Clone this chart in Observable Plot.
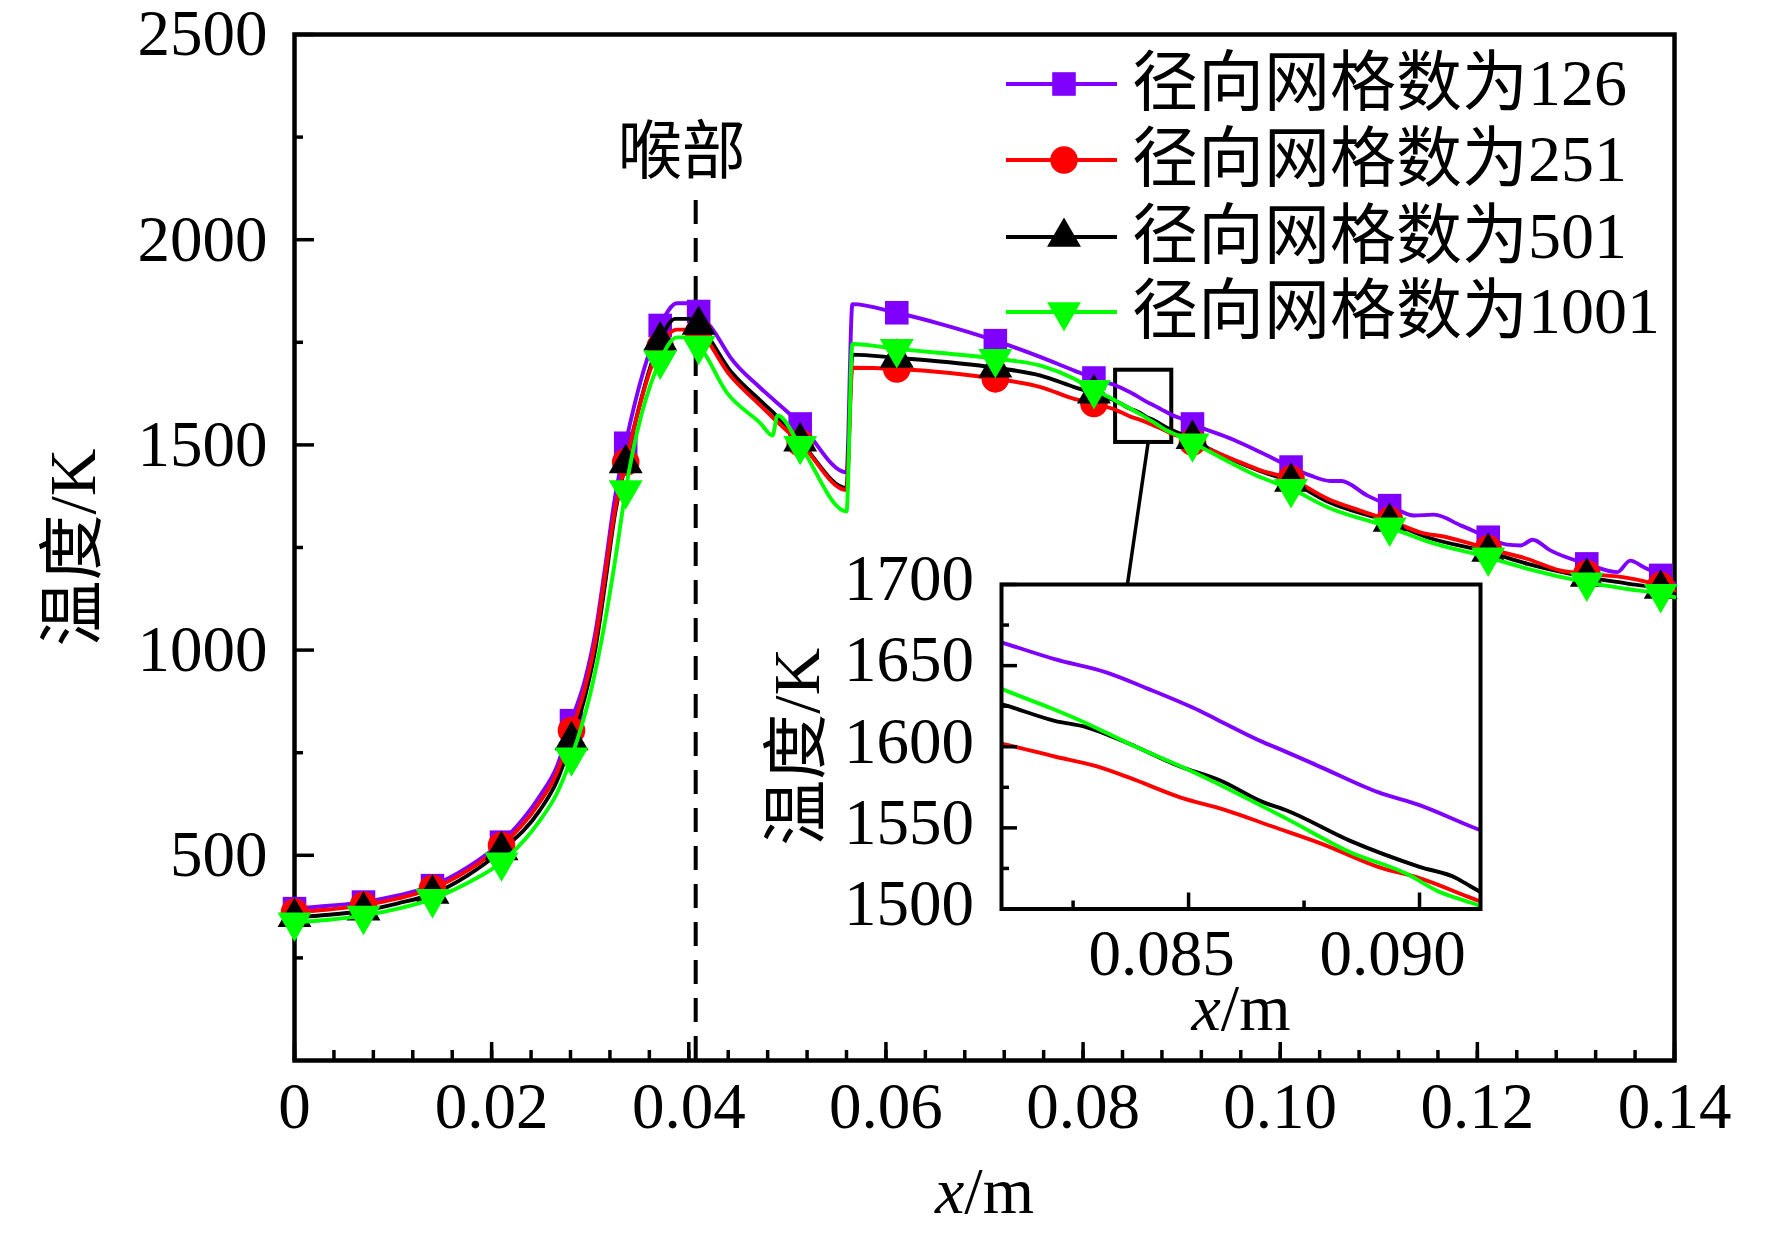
<!DOCTYPE html>
<html><head><meta charset="utf-8">
<script src="https://cdn.jsdelivr.net/npm/d3@7"></script>
<script src="https://cdn.jsdelivr.net/npm/@observablehq/plot@0.6"></script>
<style>
html,body{margin:0;padding:0;background:#fff;overflow:hidden;}
#wrap{position:relative;width:1772px;height:1233px;}
#wrap > svg{position:absolute;max-width:none;}
</style></head><body><div id="wrap"></div>
<script>
// ---------------- data ----------------
const seriesNames = ["径向网格数为126", "径向网格数为251", "径向网格数为501", "径向网格数为1001"];
const seriesColors = ["#8000ff", "#ff0000", "#000000", "#00ff00"];

const x126 = [0,0.0035,0.007,0.0105,0.014,0.0175,0.021,0.0249,0.0266,0.0281,0.0295,0.0305,0.0315,0.0325,0.0336,0.0371,0.0388,0.0404,0.041,0.0425,0.0442,0.0473,0.0503,0.0513,0.056,0.0566,0.0611,0.0655,0.0711,0.0757,0.0791,0.0811,0.0821,0.0832,0.0841,0.0851,0.0856,0.0866,0.0871,0.0879,0.0891,0.09,0.0911,0.0952,0.098,0.1011,0.1031,0.1051,0.1062,0.1088,0.1111,0.1136,0.1156,0.1183,0.1211,0.123,0.1244,0.1256,0.1274,0.1311,0.1342,0.1355,0.1369,0.1386,0.14];
const t126 = [370,377,386,402,426,470,532,645,715,828,930,1040,1200,1370,1504,1791,1845,1845,1825,1779,1714,1638,1574,1551,1433,1843,1822,1795,1754,1714,1681,1663,1654,1646,1636,1624,1617,1603,1597,1587,1572,1564,1551,1513,1482,1446,1425,1412,1412,1377,1352,1328,1330,1304,1275,1257,1255,1269,1243,1210,1190,1218,1202,1182,1162];

const x251 = [0,0.0035,0.007,0.0105,0.014,0.0175,0.021,0.0249,0.0266,0.0281,0.0295,0.0305,0.0315,0.0325,0.0336,0.0371,0.0388,0.0402,0.041,0.0442,0.0473,0.0486,0.0503,0.0513,0.056,0.0566,0.0611,0.0711,0.0757,0.0791,0.0811,0.0821,0.083,0.0838,0.0848,0.0858,0.0868,0.0879,0.0891,0.09,0.0911,0.0955,0.098,0.1011,0.1048,0.1081,0.1111,0.1142,0.1169,0.1211,0.1251,0.1284,0.1311,0.1352,0.1386,0.14];
const t251 = [361,368,378,395,419,462,524,630,700,804,910,1020,1180,1340,1458,1740,1781,1781,1775,1669,1595,1565,1527,1505,1390,1688,1685,1661,1641,1612,1601,1594,1588,1580,1569,1561,1551,1540,1526,1519,1507,1462,1438,1417,1369,1340,1316,1287,1275,1247,1222,1194,1186,1176,1157,1145];

const x501 = [0,0.0035,0.007,0.0105,0.014,0.0175,0.021,0.0249,0.0266,0.0281,0.0295,0.0305,0.0315,0.0325,0.0336,0.0371,0.0386,0.04,0.041,0.0442,0.0473,0.0486,0.0503,0.0513,0.056,0.0566,0.0611,0.0711,0.0757,0.0791,0.0811,0.0821,0.0828,0.0837,0.0848,0.0857,0.0866,0.0871,0.0885,0.09,0.0908,0.0911,0.0955,0.098,0.1011,0.1048,0.1111,0.1149,0.1211,0.1251,0.1311,0.1352,0.1386,0.14];
const t501 = [349,355,365,383,406,450,512,610,680,780,890,1000,1160,1330,1455,1754,1807,1807,1792,1681,1607,1578,1532,1508,1395,1720,1712,1688,1669,1641,1625,1616,1612,1602,1588,1579,1566,1561,1542,1526,1519,1514,1460,1436,1410,1362,1312,1275,1239,1210,1178,1162,1149,1137];

const x1001 = [0,0.0035,0.007,0.0105,0.014,0.0175,0.021,0.0249,0.0266,0.0281,0.03,0.0314,0.0326,0.0336,0.0371,0.0388,0.0394,0.041,0.0439,0.0473,0.0485,0.049,0.0513,0.056,0.0566,0.0611,0.0711,0.0757,0.0791,0.0811,0.082,0.0829,0.0837,0.0849,0.086,0.0871,0.0885,0.0897,0.0904,0.0911,0.0955,0.098,0.1011,0.1048,0.1111,0.1149,0.1211,0.1251,0.1311,0.1352,0.1386,0.14];
const t1001 = [337,343,353,370,394,432,483,585,650,739,893,1056,1230,1390,1706,1762,1762,1742,1626,1552,1523,1572,1498,1338,1746,1734,1710,1693,1661,1634,1624,1613,1602,1587,1572,1556,1535,1522,1511,1504,1450,1421,1393,1348,1299,1265,1226,1198,1165,1149,1137,1129];

// x positions that carry a symbol
const markerX = [0,0.007,0.014,0.021,0.0281,0.0336,0.0371,0.041,0.0513,0.0611,0.0711,0.0811,0.0911,0.1011,0.1111,0.1211,0.1311,0.1386];

// ticks
const xTickValues = [0,0.02,0.04,0.06,0.08,0.10,0.12,0.14];
const xTickLabels = ["0","0.02","0.04","0.06","0.08","0.10","0.12","0.14"];
const yTickValues = [500,1000,1500,2000,2500];
const yTickLabels = ["500","1000","1500","2000","2500"];
const insetXTickValues = [0.085,0.090];
const insetXTickLabels = ["0.085","0.090"];
const insetYTickValues = [1500,1550,1600,1650,1700];
const insetYTickLabels = ["1500","1550","1600","1650","1700"];

// annotations
const throatX = 0.0407, throatTopT = 2100, throatLabelT = 2212, throatLabel = "喉部";
const zoomBox = {x1: 0.0833, x2: 0.0890, t1: 1506, t2: 1682};
const zoomLink = {x1: 0.0866, t1: 1506, x2: 0.0845, t2: 1160};
const insetXDomain = [0.08095, 0.09132], insetYDomain = [1500, 1700];
const yTitle = "温度/K", xTitle = "x/m";

// ---------------- build ----------------
const FONT = '"Liberation Serif","Noto Sans CJK SC",serif';
const tri = Math.sqrt(3);
const triangleDown = {draw(ctx, size) {
  const y = -Math.sqrt(size / (tri * 3));
  ctx.moveTo(0, -2 * y); ctx.lineTo(-tri * y, y); ctx.lineTo(tri * y, y); ctx.closePath();
}};
const symbols = ["square", "circle", "triangle", triangleDown];
const symbolR = [13.3, 13.8, 12.6, 12.6];
const d3Symbols = [d3.symbolSquare, d3.symbolCircle, d3.symbolTriangle, triangleDown];

const xs = [x126, x251, x501, x1001], ts = [t126, t251, t501, t1001];
const series = xs.map((xa, i) => xa.map((x, j) => ({x, t: ts[i][j]})));
const markerSet = new Set(markerX);
const markers = series.map(s => s.filter(d => markerSet.has(d.x)));

const LW = 3.9;
const TW = 3.5;
const lineMark = (i, extra = {}) => Plot.line(series[i], {x: "x", y: "t", stroke: seriesColors[i], strokeWidth: LW, curve: "monotone-x", ...extra});
const dotMark = i => Plot.dot(markers[i], {x: "x", y: "t", symbol: symbols[i], r: symbolR[i], fill: seriesColors[i], stroke: "none"});
const noText = () => "";

const xMinor = d3.range(36).map(k => k / 250);
const yMinor = d3.range(5).map(k => 250 + k * 500);

const mainPlot = Plot.plot({
  width: 1772, height: 1233,
  marginLeft: 294, marginRight: 98, marginTop: 34, marginBottom: 173,
  x: {domain: [0, 0.14], label: null},
  y: {domain: [0, 2500], label: null},
  style: {fontFamily: FONT, background: "white", overflow: "visible"},
  marks: [
    Plot.frame({stroke: "black", strokeWidth: 4.5}),
    Plot.axisY(yMinor, {anchor: "left", tickSize: -9, tickFormat: noText, strokeWidth: TW, label: null}),
    Plot.axisY(yTickValues, {anchor: "left", tickSize: -20, tickFormat: noText, strokeWidth: TW, label: null}),
    Plot.axisY(yTickValues, {anchor: "left", tickSize: 0, tickPadding: 27, fontSize: 65, label: null,
      tickFormat: d => yTickLabels[yTickValues.indexOf(d)]}),
    Plot.axisX(xMinor, {anchor: "bottom", tickSize: -10, tickFormat: noText, strokeWidth: TW, label: null}),
    Plot.axisX(xTickValues, {anchor: "bottom", tickSize: -18, tickFormat: noText, strokeWidth: TW, label: null}),
    Plot.axisX(xTickValues, {anchor: "bottom", tickSize: 0, tickPadding: 21, fontSize: 65, label: null,
      tickFormat: d => xTickLabels[xTickValues.indexOf(d)]}),
    Plot.ruleX([throatX], {y1: 0, y2: throatTopT, stroke: "black", strokeWidth: 4, strokeDasharray: "24,14"}),
    Plot.text([throatLabel], {x: throatX, y: throatLabelT, text: d => d, dx: -14, fontSize: 64, fill: "black"}),
    Plot.rect([zoomBox], {x1: "x1", x2: "x2", y1: "t1", y2: "t2", fill: "none", stroke: "black", strokeWidth: 4}),
    Plot.link([zoomLink], {x1: "x1", y1: "t1", x2: "x2", y2: "t2", stroke: "black", strokeWidth: 3.5}),
    lineMark(0), dotMark(0),
    lineMark(2), lineMark(1), dotMark(1), dotMark(2),
    lineMark(3), dotMark(3),
    Plot.text([yTitle], {text: d => d, frameAnchor: "left", textAnchor: "middle", lineAnchor: "middle", dx: -221, rotate: -90, fontSize: 66, fill: "black"}),
    Plot.text([xTitle], {text: d => d, frameAnchor: "bottom", textAnchor: "middle", lineAnchor: "middle", dy: 131, fontSize: 66, fill: "black"})
  ]
});

const insetPlot = Plot.plot({
  width: 800, height: 520,
  marginLeft: 301, marginRight: 20, marginTop: 44, marginBottom: 151.5,
  x: {domain: insetXDomain, label: null},
  y: {domain: insetYDomain, label: null},
  style: {fontFamily: FONT, background: "transparent", overflow: "visible"},
  marks: [
    Plot.frame({fill: "white", stroke: "none"}),
    lineMark(0, {clip: true}), lineMark(2, {clip: true}), lineMark(1, {clip: true}), lineMark(3, {clip: true}),
    Plot.frame({stroke: "black", strokeWidth: 4}),
    Plot.axisY([1525,1575,1625,1675], {anchor: "left", tickSize: -8, tickFormat: noText, strokeWidth: TW, label: null}),
    Plot.axisY(insetYTickValues, {anchor: "left", tickSize: -16, tickFormat: noText, strokeWidth: TW, label: null}),
    Plot.axisY(insetYTickValues, {anchor: "left", tickSize: 0, tickPadding: 27.5, dy: -5, fontSize: 65, label: null,
      tickFormat: d => insetYTickLabels[insetYTickValues.indexOf(d)]}),
    Plot.axisX([0.0825,0.0875], {anchor: "bottom", tickSize: -8, tickFormat: noText, strokeWidth: TW, label: null}),
    Plot.axisX(insetXTickValues, {anchor: "bottom", tickSize: -16, tickFormat: noText, strokeWidth: TW, label: null}),
    Plot.axisX(insetXTickValues, {anchor: "bottom", tickSize: 0, tickPadding: 19.5, dx: -27, fontSize: 65, label: null,
      tickFormat: d => insetXTickLabels[insetXTickValues.indexOf(d)]}),
    Plot.text([yTitle], {text: d => d, frameAnchor: "left", textAnchor: "middle", lineAnchor: "middle", dx: -204, rotate: -90, fontSize: 66, fill: "black"}),
    Plot.text([xTitle], {text: d => d, frameAnchor: "bottom", textAnchor: "middle", lineAnchor: "middle", dy: 100, fontSize: 66, fill: "black"})
  ]
});

const wrap = document.getElementById("wrap");
mainPlot.style.left = "0px"; mainPlot.style.top = "0px";
insetPlot.style.left = "700px"; insetPlot.style.top = "540px";
wrap.append(mainPlot, insetPlot);

// italic x in "x/m"; drop empty tick texts
for (const svg of [mainPlot, insetPlot]) {
  d3.select(svg).selectAll("text").each(function() {
    if (this.textContent === xTitle) {
      const el = d3.select(this);
      el.text("");
      el.append("tspan").attr("font-style", "italic").text("x");
      el.append("tspan").text("/m");
    } else if (this.textContent === "") {
      this.remove();
    }
  });
}

// legend (top right, inside the main frame)
const legend = d3.select(wrap).append("svg")
  .attr("width", 1772).attr("height", 1233)
  .style("left", "0px").style("top", "0px").style("pointer-events", "none")
  .style("font-family", FONT);
const rowY = [84, 160, 237, 312];
seriesNames.forEach((name, i) => {
  const g = legend.append("g");
  g.append("line").attr("x1", 1006).attr("x2", 1117).attr("y1", rowY[i]).attr("y2", rowY[i])
    .attr("stroke", seriesColors[i]).attr("stroke-width", LW);
  g.append("path").attr("transform", `translate(1064,${rowY[i]})`)
    .attr("d", d3.symbol(d3Symbols[i], symbolR[i] * symbolR[i] * Math.PI)())
    .attr("fill", seriesColors[i]);
  g.append("text").attr("x", 1132).attr("y", rowY[i] + 21).attr("font-size", 66).attr("fill", "black").text(name);
});
</script></body></html>
